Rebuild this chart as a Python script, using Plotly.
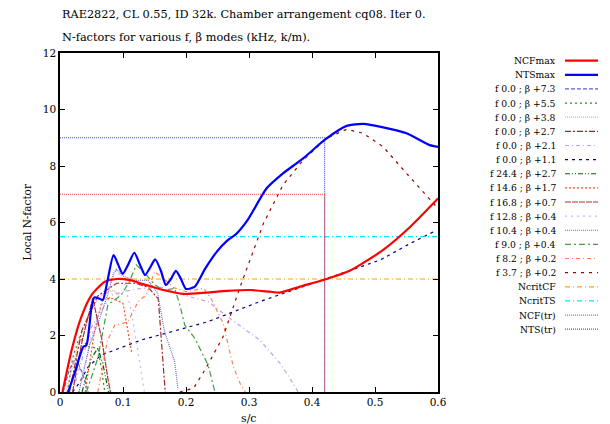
import plotly.graph_objects as go

# ---------------- data ----------------
nts_s = [0.013,0.023,0.037,0.042,0.050,0.0545,0.061,0.068,0.075,0.085,0.0925,0.0995,0.108,0.118,0.127,0.135,0.143,0.151,0.160,0.168,0.176,0.184,0.192,0.200,0.214,0.230,0.249,0.265,0.280,0.298,0.328,0.354,0.386,0.421,0.455,0.481,0.513,0.550,0.587,0.600]
nts_n = [0,0.66,1.6,1.66,3.0,3.35,3.32,3.26,3.9,4.85,4.5,4.18,4.5,4.93,4.5,4.14,4.4,4.70,4.3,3.79,4.0,4.29,4.0,3.65,3.73,4.35,4.97,5.35,5.6,6.09,7.21,7.74,8.27,8.94,9.42,9.49,9.37,9.16,8.74,8.68]

ncf_s = [0.004,0.0185,0.034,0.050,0.071,0.090,0.111,0.132,0.164,0.196,0.233,0.265,0.302,0.333,0.349,0.381,0.423,0.460,0.513,0.556,0.600]
ncf_n = [0,1.49,2.67,3.43,3.9,4.0,3.96,3.82,3.61,3.47,3.52,3.58,3.61,3.55,3.52,3.73,4.0,4.29,5.03,5.85,6.85]

b73_s = [0.005,0.015,0.025,0.035,0.045]
b73_n = [0,0.8,1.2,0.7,0]
b55_s = [0.012,0.020,0.031,0.045,0.060,0.066,0.071]
b55_n = [0,1.2,1.96,1.6,1.55,0.8,0]
b38_s = [0.010,0.030,0.050,0.070,0.085,0.095]
b38_n = [0,1.8,3.0,3.5,3.6,3.4]
b27_s = [0.015,0.035,0.060,0.090,0.120,0.140,0.156,0.162,0.167]
b27_n = [0,2.2,3.4,3.85,3.85,3.7,3.3,1.5,0]
b21_s = [0.020,0.050,0.081,0.120,0.160,0.206,0.235,0.270,0.317,0.350,0.370,0.378]
b21_n = [0,2.3,3.43,3.65,3.7,3.37,3.2,2.6,1.84,1.0,0.3,0]
b11_s = [0.020,0.030,0.045,0.066,0.129,0.235,0.317,0.349,0.420,0.455,0.508,0.556,0.593]
b11_n = [0,0.3,0.9,1.31,1.84,2.49,3.2,3.45,4.0,4.26,4.67,5.26,5.67]
f244_s = [0.035,0.050,0.060,0.068,0.077]
f244_n = [0,1.2,1.55,1.0,0]
f146_s = [0.040,0.055,0.068,0.085,0.100,0.110,0.114]
f146_n = [0,2.2,3.32,3.3,3.14,1.9,1.37]
f168_s = [0.020,0.035,0.052,0.066,0.076,0.080]
f168_n = [0,1.8,3.32,1.9,0.48,0]
f128_s = [0.030,0.050,0.070,0.089,0.100,0.112,0.124,0.134]
f128_n = [0,2.0,3.3,4.32,4.0,3.0,1.4,0]
f104_s = [0.030,0.047,0.063,0.075,0.085,0.090,0.100,0.120,0.140,0.155,0.166,0.182,0.187]
f104_n = [0,1.66,2.6,3.4,4.2,4.34,4.1,3.95,3.95,3.5,2.13,1.07,0.13]
f90_s = [0.042,0.045,0.060,0.076,0.097,0.110,0.121,0.135,0.150,0.165,0.182,0.190,0.198,0.214,0.235,0.246]
f90_n = [0,0.19,1.2,3.08,3.43,3.9,4.5,4.2,3.8,3.6,3.67,3.1,2.37,1.9,0.96,0]
f82_s = [0.060,0.075,0.087,0.097,0.108,0.124,0.137,0.150,0.160,0.180,0.200,0.228,0.240,0.259,0.275,0.286,0.294]
f82_n = [0,1.8,2.37,2.4,2.5,3.2,3.43,4.26,4.1,3.7,3.55,3.67,3.3,2.43,0.9,0.3,0]
f37_s = [0.190,0.212,0.230,0.259,0.286,0.302,0.323,0.354,0.386,0.423,0.455,0.481,0.513,0.550,0.587,0.600]
f37_n = [0,0.13,0.78,1.96,3.73,4.67,5.97,7.33,8.21,8.98,9.3,9.16,8.68,7.74,6.8,6.5]

ncrit_cf = 4.0
ncrit_ts = 5.5
s_tr = 0.42
ncf_tr = 7.0
nts_tr = 9.0

x_ticks = [0, 0.1, 0.2, 0.3, 0.4, 0.5, 0.6]
x_tick_labels = ["0", "0.1", "0.2", "0.3", "0.4", "0.5", "0.6"]
y_ticks = [0, 2, 4, 6, 8, 10, 12]

# ---------------- styles ----------------
FONT = "DejaVu Serif"
series = [
    ("NCFmax", ncf_s, ncf_n, "#ff0000", "solid", 2.2),
    ("NTSmax", nts_s, nts_n, "#0000ff", "solid", 2.2),
    ("f 0.0 ; \u03b2 +7.3", b73_s, b73_n, "#6060c8", "4px,2px", 1.2),
    ("f 0.0 ; \u03b2 +5.5", b55_s, b55_n, "#2a8a2a", "2px,3px", 1.2),
    ("f 0.0 ; \u03b2 +3.8", b38_s, b38_n, "#ffa080", "1px,1px", 1.2),
    ("f 0.0 ; \u03b2 +2.7", b27_s, b27_n, "#a02828", "6px,2px,2px,2px", 1.2),
    ("f 0.0 ; \u03b2 +2.1", b21_s, b21_n, "#c0a0f0", "4px,3px,1px,3px", 1.2),
    ("f 0.0 ; \u03b2 +1.1", b11_s, b11_n, "#00008b", "3px,4px", 1.2),
    ("f 24.4 ; \u03b2 +2.7", f244_s, f244_n, "#006400", "5px,2px,1px,2px,1px,2px", 1.2),
    ("f 14.6 ; \u03b2 +1.7", f146_s, f146_n, "#ff5020", "2px,2px", 1.2),
    ("f 16.8 ; \u03b2 +0.7", f168_s, f168_n, "#b03030", "6px,1px", 1.2),
    ("f 12.8 ; \u03b2 +0.4", f128_s, f128_n, "#d0b0ff", "2px,4px", 1.2),
    ("f 10.4 ; \u03b2 +0.4", f104_s, f104_n, "#7070c0", "1px,1px", 1.2),
    ("f 9.0 ; \u03b2 +0.4", f90_s, f90_n, "#40a040", "6px,3px,2px,3px", 1.2),
    ("f 8.2 ; \u03b2 +0.2", f82_s, f82_n, "#ff8050", "4px,3px,1px,3px", 1.2),
    ("f 3.7 ; \u03b2 +0.2", f37_s, f37_n, "#a00000", "3px,5px", 1.2),
    ("NcritCF", [0, 0.6], [ncrit_cf, ncrit_cf], "#ffa500", "5px,3px,1px,3px", 1.2),
    ("NcritTS", [0, 0.6], [ncrit_ts, ncrit_ts], "#00e8ff", "5px,3px,1px,3px", 1.2),
    ("NCF(tr)", [0, s_tr, s_tr], [ncf_tr, ncf_tr, 0], "#ff5050", "1px,1px", 1.2),
    ("NTS(tr)", [0, s_tr, s_tr], [nts_tr, nts_tr, 0], "#5050ff", "1px,1px", 1.2),
]

fig = go.Figure()
draw_order = list(range(2, len(series))) + [0, 1]
for i in draw_order:
    name, xs, ys, col, dash, w = series[i]
    fig.add_trace(go.Scatter(x=xs, y=ys, mode="lines", name=name,
                             line=dict(color=col, dash=dash, width=w,
                                       shape="spline" if i < 2 else "linear",
                                       smoothing=0.6),
                             showlegend=False, hoverinfo="skip"))

# plot box in pixels
L, R, T, B = 60, 438, 53, 392
W, H = 610, 424
pw, ph = R - L, B - T

def px2x(px):
    return (px - L) / pw

def py2y(py):
    return (B - py) / ph

# manual gnuplot-style legend
for k, (name, xs, ys, col, dash, w) in enumerate(series):
    yy = py2y(60.7 + k * 14.13)
    fig.add_annotation(x=px2x(558), y=yy, xref="paper", yref="paper",
                       text=name, showarrow=False, xanchor="right", yanchor="middle",
                       font=dict(family=FONT, size=9.2, color="#000000"))
    fig.add_shape(type="line", xref="paper", yref="paper",
                  x0=px2x(565), x1=px2x(598), y0=yy, y1=yy,
                  line=dict(color=col, dash=dash, width=w))

# titles
fig.add_annotation(x=0, y=py2y(14), xref="paper", yref="paper",
                   text="RAE2822, CL 0.55, ID 32k. Chamber arrangement cq08. Iter 0.",
                   showarrow=False, xanchor="left", yanchor="middle",
                   font=dict(family=FONT, size=11.3, color="#000000"))
fig.add_annotation(x=0, y=py2y(37), xref="paper", yref="paper",
                   text="N-factors for various f, \u03b2 modes (kHz, k/m).",
                   showarrow=False, xanchor="left", yanchor="middle",
                   font=dict(family=FONT, size=11.3, color="#000000"))
fig.add_annotation(x=0.5, y=py2y(419), xref="paper", yref="paper",
                   text="s/c", showarrow=False, xanchor="center", yanchor="middle",
                   font=dict(family=FONT, size=11, color="#000000"))
fig.add_annotation(x=px2x(26), y=0.5, xref="paper", yref="paper",
                   text="Local N-factor", showarrow=False, textangle=-90,
                   xanchor="center", yanchor="middle",
                   font=dict(family=FONT, size=10.5, color="#000000"))

axis_common = dict(showgrid=False, zeroline=False, showline=True, linecolor="#000000",
                   linewidth=1.5, mirror="ticks", ticks="inside", ticklen=5,
                   tickwidth=1.2, tickcolor="#000000",
                   tickfont=dict(family=FONT, size=10.5, color="#000000"))
fig.update_xaxes(range=[0, 0.6], tickvals=x_ticks, ticktext=x_tick_labels, **axis_common)
fig.update_yaxes(range=[0, 12], tickvals=y_ticks, **axis_common)

fig.update_layout(width=W, height=H, margin=dict(l=L, r=W - R, t=T, b=H - B),
                  paper_bgcolor="#ffffff", plot_bgcolor="#ffffff", showlegend=False)

fig.write_html("out.html")
